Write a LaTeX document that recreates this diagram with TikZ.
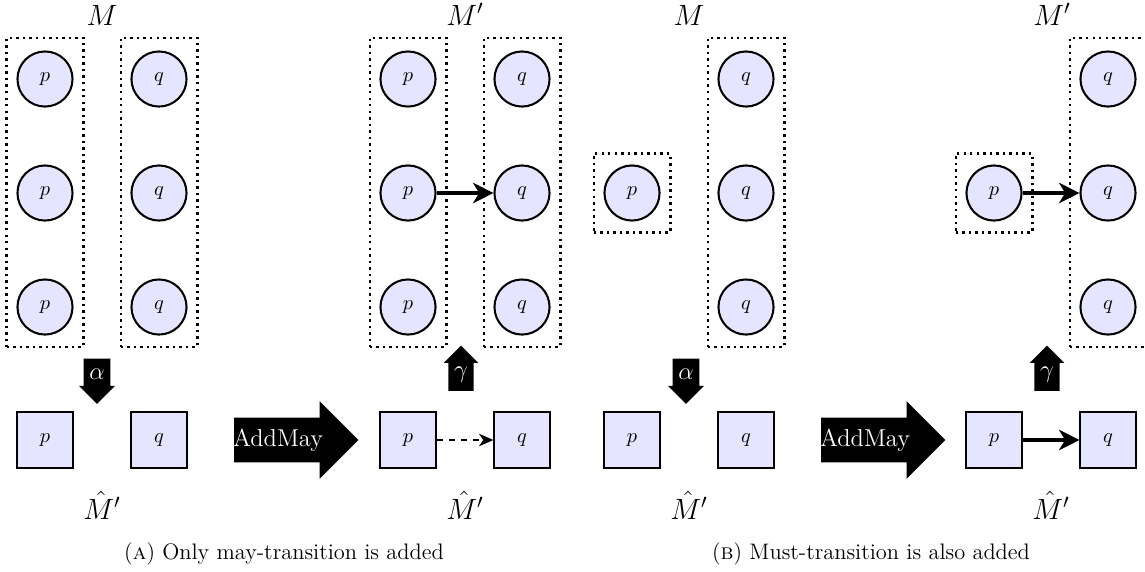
\documentclass[tikz,border=0pt]{standalone}
\usepackage{amsmath}
\usepackage{amssymb}
\usepackage{tikz}
\usetikzlibrary{calc,shapes,shapes.arrows,arrows.meta}
\newcommand{\tikzColumnBox}[3]{
  \node[colbox,minimum height=#3] (#1) at (#2) {};
}

\begin{document}
\begin{tikzpicture}[x=0.01724cm, y=-0.01724cm,
  conc/.style={draw,line width=1pt,circle,fill=blue!10,minimum size=0.95cm,inner sep=0pt},
  abst/.style={draw,line width=1pt,rectangle,fill=blue!10,minimum size=0.95cm,inner sep=0pt},
  colbox/.style={draw,very thick,dotted,rectangle,minimum width=1.32cm},
  galois/.style={single arrow,fill=black,text=white,font=\large,inner xsep=2.6pt,inner ysep=1pt,minimum height=0.78cm,single arrow head extend=0.08cm},
  addop/.style={single arrow,fill=black,minimum height=2.14cm,inner ysep=0.38cm,inner xsep=0pt,single arrow head extend=0.28cm},
  must/.style={-{Stealth[length=10pt,width=10pt,inset=3pt]},line width=2.2pt},
  may/.style={-{Stealth[length=7pt,width=6pt,inset=2pt]},very thick,dashed},
  modlbl/.style={font=\Large,anchor=base,inner sep=0.5pt},
  subcap/.style={font=\fontsize{11}{13}\selectfont}]
  \useasboundingbox (0,0) rectangle (1145,571);

  % (a) left: M
  \node [modlbl] (al-M) at (102, 25) {$M$};
  \tikzColumnBox{al-bp}{45,192.5}{5.33cm}
  \tikzColumnBox{al-bq}{159,192.5}{5.33cm}
  \node [conc] (al-p1) at ( 45, 79) {$p$};
  \node [conc] (al-p2) at ( 45,193) {$p$};
  \node [conc] (al-p3) at ( 45,307) {$p$};
  \node [conc] (al-q1) at (159, 79) {$q$};
  \node [conc] (al-q2) at (159,193) {$q$};
  \node [conc] (al-q3) at (159,307) {$q$};
  \node [galois,shape border rotate=270] (al-alpha) at (97,374.5) {$\alpha$};
  \node [abst] (al-sp) at ( 45,440) {$p$};
  \node [abst] (al-sq) at (159,440) {$q$};
  \node [modlbl] (al-H) at (102,519) {$\hat{M}'$};

  \node [addop] (a-add) at (285,440) {};
  \node [text=white,font=\large] (a-addlbl) at (278,440) {AddMay};

  % (a) right: M'
  \node [modlbl] (ar-M) at (465, 25) {$M'$};
  \tikzColumnBox{ar-bp}{408,192.5}{5.33cm}
  \tikzColumnBox{ar-bq}{522,192.5}{5.33cm}
  \node [conc] (ar-p1) at (408, 79) {$p$};
  \node [conc] (ar-p2) at (408,193) {$p$};
  \node [conc] (ar-p3) at (408,307) {$p$};
  \node [conc] (ar-q1) at (522, 79) {$q$};
  \node [conc] (ar-q2) at (522,193) {$q$};
  \node [conc] (ar-q3) at (522,307) {$q$};
  \path (ar-p2) edge [must] (ar-q2);
  \node [galois,shape border rotate=90] (ar-gamma) at (461,374.5) {$\gamma$};
  \node [abst] (ar-sp) at (408,440) {$p$};
  \node [abst] (ar-sq) at (522,440) {$q$};
  \path (ar-sp) edge [may] (ar-sq);
  \node [modlbl] (ar-H) at (465,519) {$\hat{M}'$};

  \node [subcap] (a-cap) at (284,554) {(\textsc{a}) Only may-transition is added};

  % (b) left: M
  \node [modlbl] (bl-M) at (689, 25) {$M$};
  \node [colbox,minimum height=1.36cm] (bl-bp) at (632,193) {};
  \tikzColumnBox{bl-bq}{746,192.5}{5.33cm}
  \node [conc] (bl-p) at (632,193) {$p$};
  \node [conc] (bl-q1) at (746, 79) {$q$};
  \node [conc] (bl-q2) at (746,193) {$q$};
  \node [conc] (bl-q3) at (746,307) {$q$};
  \node [galois,shape border rotate=270] (bl-alpha) at (686,374.5) {$\alpha$};
  \node [abst] (bl-sp) at (632,440) {$p$};
  \node [abst] (bl-sq) at (746,440) {$q$};
  \node [modlbl] (bl-H) at (689,519) {$\hat{M}'$};

  \node [addop] (b-add) at (872,440) {};
  \node [text=white,font=\large] (b-addlbl) at (865,440) {AddMay};

  % (b) right: M'
  \node [modlbl] (br-M) at (1052, 25) {$M'$};
  \node [colbox,minimum height=1.36cm] (br-bp) at (994,193) {};
  \tikzColumnBox{br-bq}{1108,192.5}{5.33cm}
  \node [conc] (br-p) at (994,193) {$p$};
  \node [conc] (br-q1) at (1108, 79) {$q$};
  \node [conc] (br-q2) at (1108,193) {$q$};
  \node [conc] (br-q3) at (1108,307) {$q$};
  \path (br-p) edge [must] (br-q2);
  \node [galois,shape border rotate=90] (br-gamma) at (1047,374.5) {$\gamma$};
  \node [abst] (br-sp) at (994,440) {$p$};
  \node [abst] (br-sq) at (1108,440) {$q$};
  \path (br-sp) edge [must] (br-sq);
  \node [modlbl] (br-H) at (1051,519) {$\hat{M}'$};

  \node [subcap] (b-cap) at (871,554) {(\textsc{b}) Must-transition is also added};
\end{tikzpicture}
\end{document}
